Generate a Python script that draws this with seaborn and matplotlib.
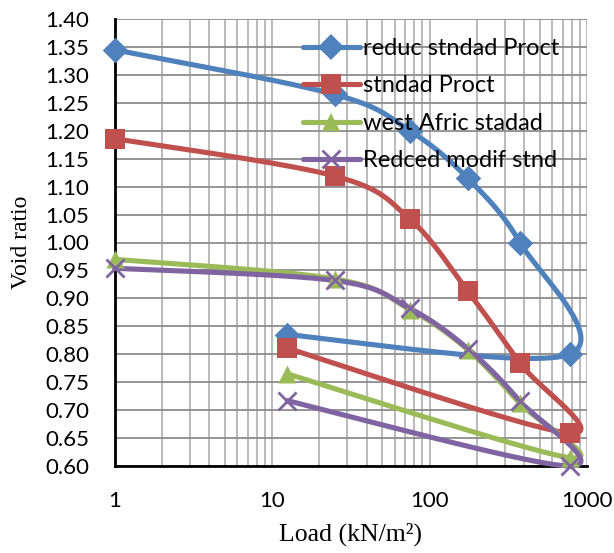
import numpy as np
import pandas as pd
import matplotlib
matplotlib.use("Agg")
import matplotlib.pyplot as plt
import seaborn as sns
from matplotlib.lines import Line2D
from matplotlib.ticker import FixedLocator, LogLocator, NullFormatter, FuncFormatter

# ---- data ----
loads = [1, 25, 75, 175, 375, 775, 12.5]
reduc_stndad_proct = [1.345, 1.265, 1.200, 1.115, 1.000, 0.800, 0.835]
stndad_proct = [1.186, 1.119, 1.042, 0.913, 0.784, 0.659, 0.811]
west_afric_stadad = [0.970, 0.935, 0.880, 0.808, 0.712, 0.615, 0.765]
redced_modif_stnd = [0.954, 0.932, 0.882, 0.810, 0.716, 0.600, 0.717]
series_names = ["reduc stndad Proct", "stndad Proct", "west Afric stadad", "Redced modif stnd"]
x_ticks = [1, 10, 100, 1000]
x_tick_labels = ["1", "10", "100", "1000"]
y_ticks = [0.60, 0.65, 0.70, 0.75, 0.80, 0.85, 0.90, 0.95, 1.00, 1.05,
           1.10, 1.15, 1.20, 1.25, 1.30, 1.35, 1.40]

series_values = [reduc_stndad_proct, stndad_proct, west_afric_stadad, redced_modif_stnd]
colors = ["#4F81BD", "#C0504D", "#9BBB59", "#8064A2"]
markers = ["D", "s", "^", "x"]
msizes = [13, 14, 13, 13]


def smooth_curve(xs, ys, n=50):
    """Excel-style smoothed line (Bezier through the points, in log-x space)."""
    P = np.column_stack([np.log10(np.asarray(xs, float)), np.asarray(ys, float)])
    ext = np.vstack([P[0], P, P[-1]])
    out = []
    t = np.linspace(0, 1, n)[:, None]
    for i in range(len(P) - 1):
        p0, p1, p2, p3 = ext[i], ext[i + 1], ext[i + 2], ext[i + 3]
        c1 = p1 + (p2 - p0) / 6.0
        c2 = p2 - (p3 - p1) / 6.0
        seg = (1 - t) ** 3 * p1 + 3 * (1 - t) ** 2 * t * c1 + 3 * (1 - t) * t ** 2 * c2 + t ** 3 * p2
        out.append(seg if i == 0 else seg[1:])
    pts = np.vstack(out)
    return 10 ** pts[:, 0], pts[:, 1]


sns.set_theme(style="white")
plt.rcParams["font.family"] = ["Lato", "DejaVu Sans"]

fig = plt.figure(figsize=(6.14, 5.53), dpi=100)
ax = fig.add_axes([114.5 / 614, 1 - 466 / 553, (587 - 114.5) / 614, (466 - 19) / 553])

ax.set_xscale("log")
ax.set_xlim(1, 1000)
ax.set_ylim(0.60, 1.40)

# grid
ax.xaxis.set_major_locator(FixedLocator(x_ticks))
ax.xaxis.set_minor_locator(LogLocator(base=10, subs=np.arange(2, 10)))
ax.xaxis.set_minor_formatter(NullFormatter())
ax.yaxis.set_major_locator(FixedLocator(y_ticks))
ax.yaxis.set_major_formatter(FuncFormatter(lambda v, p: f"{v:.2f}"))
ax.grid(True, which="major", axis="y", color="#8c8c8c", lw=1.3, zorder=0)
ax.grid(True, which="both", axis="x", color="#b4b4b4", lw=1.3, zorder=0)
ax.set_axisbelow(True)

for name, vals, c, m, ms in zip(series_names, series_values, colors, markers, msizes):
    sx, sy = smooth_curve(loads, vals)
    df = pd.DataFrame({"x": sx, "y": sy})
    sns.lineplot(data=df, x="x", y="y", sort=False, estimator=None, ax=ax,
                 color=c, lw=3.7, clip_on=False, zorder=3)
    pts = pd.DataFrame({"x": loads, "y": vals})
    if m == "x":
        ax.scatter(pts["x"], pts["y"], marker="x", s=ms ** 2, color=c, linewidths=2.0,
                   clip_on=False, zorder=4)
    else:
        sns.scatterplot(data=pts, x="x", y="y", marker=m, s=ms ** 2, color=c,
                        edgecolor=c, linewidth=0, ax=ax, clip_on=False, zorder=4)

# spines and ticks
for s in ["top", "right"]:
    ax.spines[s].set_visible(False)
for s in ["left", "bottom"]:
    ax.spines[s].set_color("black")
    ax.spines[s].set_linewidth(2.0)
ax.set_xticks(x_ticks)
ax.set_xticklabels(x_tick_labels)
ax.tick_params(axis="both", which="major", direction="out", length=5, width=2.0,
               color="black", labelsize=16, labelcolor="black")
ax.tick_params(axis="x", which="major", pad=13)
ax.tick_params(axis="y", which="major", pad=13)
ax.tick_params(axis="x", which="minor", length=0)

ax.set_xlabel("Load (kN/m²)", fontfamily=["Liberation Serif", "DejaVu Serif"], fontsize=18.5,
              color="black", labelpad=8)
ax.set_ylabel("Void ratio", fontfamily=["Liberation Serif", "DejaVu Serif"], fontsize=17,
              color="black", labelpad=10)

handles = [Line2D([], [], color=c, lw=3.7, marker=m, markersize=ms,
                  markeredgewidth=(2.0 if m == "x" else 0), markerfacecolor=c, markeredgecolor=c)
           for c, m, ms in zip(colors, markers, msizes)]
leg = ax.legend(handles, series_names, loc="upper left", bbox_to_anchor=(0.399, 0.958),
                frameon=False, fontsize=17, handlelength=2.4, handletextpad=0.15,
                borderpad=0, borderaxespad=0, labelspacing=0.7)
for t in leg.get_texts():
    t.set_color("black")

fig.savefig("out.png", dpi=100)
